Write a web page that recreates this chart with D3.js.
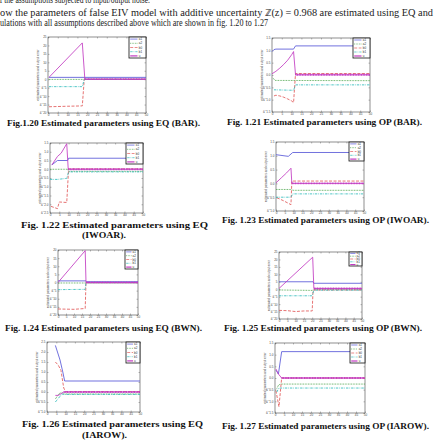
<!DOCTYPE html>
<html>
<head>
<title>Estimated parameters</title>
<style>
  body { margin: 0; background: #ffffff; }
  svg { display: block; }
  .para { font-family: "Liberation Serif", serif; font-size: 9.5px; fill: #222; }
  .cap { font-family: "Liberation Serif", serif; font-size: 8.6px; font-weight: bold; fill: #111; }
  .tick text { font-family: "Liberation Sans", sans-serif; font-size: 3px; fill: #444; }
  .tick line { stroke: #555; stroke-width: 0.4; }
  .ytitle { font-family: "Liberation Sans", sans-serif; font-size: 3px; fill: #555; }
  .leg { font-family: "Liberation Sans", sans-serif; font-size: 3px; fill: #333; }
</style>
<script src="https://cdnjs.cloudflare.com/ajax/libs/d3/7.8.5/d3.min.js"></script>
</head>
<body>
<div id="chart"></div>
<script>
// series names shown in every legend
var legendLabels = ["a1", "a2", "b0", "b1", "u"];
var xTicks = [0, 5, 10, 15, 20, 25, 30, 35, 40, 45, 50];

// Fig 1.20 EQ (BAR)
var f20_a1 = [[0.5, 1.1], [50, 1.1]];
var f20_a2 = [[0.5, -0.1], [50, -0.1]];
var f20_b0 = [[0.5, -16.3], [10, -16], [17.5, -15.8], [18.5, 0], [50, 0]];
var f20_b1 = [[0.5, -4.4], [17.5, -4.4], [18.5, 0], [50, 0]];
var f20_u = [[0.5, 1.1], [17.5, 21.5], [18.8, 0], [50, 0]];

// Fig 1.21 OP (BAR)
var f21_a1 = [[0, 0.95], [1, 1.03], [2, 1.05], [11, 1.05], [12, 1.18], [50, 1.18]];
var f21_a2 = [[0.5, -0.12], [1.5, -0.22], [50, -0.23]];
var f21_b0 = [[1, -0.85], [2, -0.82], [4, -0.85], [6, -0.9], [8, -0.97], [10, -1.05], [11, -1.12], [12, 0.06], [50, 0.06]];
var f21_b1 = [[1, -0.6], [11, -0.62], [12, -0.4], [50, -0.4]];
var f21_u = [[0, 0.05], [2, 0.15], [4, 0.28], [6, 0.43], [8, 0.6], [10, 0.82], [11, 0.95], [12, 0.01], [50, 0.01]];

// Fig 1.22 EQ (IWOAR)
var f22_a1 = [[1, 0.25], [4, 0.5], [9.5, 0.5], [10, 0.63], [50, 0.63]];
var f22_a2 = [[0, 0], [9.5, 0], [10, -0.12], [50, -0.12]];
var f22_b0 = [[0.5, -2.12], [4, -2.25], [5, -1.87], [9, -1.9], [10, 0.02], [50, 0.02]];
var f22_b1 = [[0, -0.58], [4, -0.58], [9, -0.52], [10, -0.15], [50, -0.15]];
var f22_u = [[1, 0.25], [4, 0.73], [6, 0.92], [9, 1.46], [9.8, 0], [50, 0]];

// Fig 1.23 OP (IWOAR)
var f23_a1 = [[0, 1.04], [7, 0.98], [9.5, 1.12], [50, 1.12]];
var f23_a2 = [[0, -0.22], [9, -0.22], [9.5, -0.25], [50, -0.25]];
var f23_b0 = [[0.5, -0.52], [4, -0.62], [8.5, -0.77], [9, 0.085], [50, 0.085]];
var f23_b1 = [[0, -0.5], [8.5, -0.5], [9.5, -0.38], [50, -0.38]];
var f23_u = [[0, 0.02], [3, 0.2], [6, 0.38], [8.5, 0.55], [9, 0], [50, 0]];

// Fig 1.24 EQ (BWN)
var f24_a1 = [[0, 1], [17.5, 1], [18, 0.5], [50, 0.5]];
var f24_a2 = [[0, -0.3], [50, -0.3]];
var f24_b0 = [[0, -16.3], [10, -16.5], [17, -16], [17.5, 0], [50, 0]];
var f24_b1 = [[0, -4.4], [17, -4.2], [17.5, 0], [50, 0]];
var f24_u = [[0, 0], [17, 19.6], [17.5, 0], [50, 0]];

// Fig 1.25 OP (BWN)
var f25_a1 = [[0, 5], [20.5, 5], [21, 4], [50, 4]];
var f25_a2 = [[0, -0.5], [20, -0.8], [21, -0.3], [50, -0.3]];
var f25_b0 = [[0, -14.2], [5, -14.4], [10, -15], [15, -14.6], [20, -14.6], [20.5, -1], [21, -0.5], [50, -0.5]];
var f25_b1 = [[0, -4.4], [20, -4.4], [21, -0.6], [50, -0.6]];
var f25_u = [[0, 0.5], [20.3, 21.5], [21, 0.5], [50, 0.5]];

// Fig 1.26 EQ (IAROW)
var f26_a1 = [[4.5, 2.33], [7, 1.6], [8.5, 1.0], [9.5, 0.55], [50, 0.55]];
var f26_a2 = [[4.5, -0.35], [6.5, -0.08], [8, -0.02], [9, -0.1], [50, -0.1]];
var f26_b0 = [[4.5, 1.5], [6, 1.35], [7.5, 1.08], [9, 0.2], [10, 0.02], [50, 0.02]];
var f26_b1 = [[4.5, -0.5], [6, -0.33], [8, -0.1], [9, -0.12], [50, -0.12]];
var f26_u = [[4.5, -0.17], [6, -0.17], [7, -0.12], [9, 0], [50, 0]];

// Fig 1.27 OP (IAROW)
var f27_a1 = [[0.5, 0.34], [1.9, 0.17], [3.7, 1.13], [50, 1.13]];
var f27_a2 = [[1, -0.45], [2, -0.3], [3, -0.26], [50, -0.26]];
var f27_b0 = [[0.5, -0.54], [2.2, -1.23], [3.7, 0], [50, 0]];
var f27_b1 = [[1, -0.6], [2, -0.45], [3, -0.43], [50, -0.43]];
var f27_u = [[0.5, 0.39], [1.9, 0.17], [3.7, 0], [50, 0]];

// y tick values per figure
var y20 = [-20, -15, -10, -5, 0, 5, 10, 15, 20, 25];
var y21 = [-1.5, -1, -0.5, 0, 0.5, 1, 1.5];
var y22 = [-2.5, -2, -1.5, -1, -0.5, 0, 0.5, 1, 1.5];
var y23 = [-1, -0.5, 0, 0.5, 1, 1.5];
var y24 = [-20, -15, -10, -5, 0, 5, 10, 15, 20];
var y25 = [-20, -15, -10, -5, 0, 5, 10, 15, 20, 25];
var y26 = [-1, -0.5, 0, 0.5, 1, 1.5, 2, 2.5];
var y27 = [-1.5, -1, -0.5, 0, 0.5, 1, 1.5];

var styles = [
    { c: "#5858d8", dash: null },
    { c: "#3a9c3a", dash: "0.8,0.8" },
    { c: "#e25a5a", dash: "3,1.5" },
    { c: "#30bcbc", dash: "2.4,1,0.7,1" },
    { c: "#c23ac2", dash: null }
];

var panels = [
    { box: [48, 37, 146, 113], leg: [129, 37, 146, 58], yt: y20, s: [f20_a1, f20_a2, f20_b0, f20_b1, f20_u] },
    { box: [272, 38, 370, 112], leg: [353, 38, 370, 58], yt: y21, s: [f21_a1, f21_a2, f21_b0, f21_b1, f21_u] },
    { box: [50, 143, 143, 213], leg: [126, 143, 143, 164], yt: y22, s: [f22_a1, f22_a2, f22_b0, f22_b1, f22_u] },
    { box: [276, 142, 364, 211], leg: [349, 142, 364, 161], yt: y23, s: [f23_a1, f23_a2, f23_b0, f23_b1, f23_u] },
    { box: [58, 250, 138, 315], leg: [125, 250, 138, 269], yt: y24, s: [f24_a1, f24_a2, f24_b0, f24_b1, f24_u] },
    { box: [279, 252, 362, 319], leg: [349, 252, 362, 266], yt: y25, s: [f25_a1, f25_a2, f25_b0, f25_b1, f25_u] },
    { box: [47, 342, 140, 412], leg: [126, 342, 140, 363], yt: y26, s: [f26_a1, f26_a2, f26_b0, f26_b1, f26_u] },
    { box: [275, 343, 365, 413], leg: [350, 343, 365, 363], yt: y27, s: [f27_a1, f27_a2, f27_b0, f27_b1, f27_u] }
];

var captions = [
    { t: "Fig.1.20 Estimated parameters using EQ (BAR).", x: 7, y: 126, w: 193 },
    { t: "Fig. 1.21 Estimated parameters using OP (BAR).", x: 227, y: 125, w: 195 },
    { t: "Fig. 1.22 Estimated parameters using EQ", x: 21, y: 228, w: 187 },
    { t: "(IWOAR).", x: 82, y: 238, w: 44 },
    { t: "Fig. 1.23 Estimated parameters using OP (IWOAR).", x: 222, y: 223, w: 207 },
    { t: "Fig. 1.24 Estimated parameters using EQ (BWN).", x: 5, y: 331, w: 197 },
    { t: "Fig. 1.25 Estimated parameters using OP (BWN).", x: 224, y: 331, w: 198 },
    { t: "Fig. 1.26 Estimated parameters using EQ", x: 22, y: 427, w: 181 },
    { t: "(IAROW).", x: 82, y: 438, w: 45 },
    { t: "Fig. 1.27 Estimated parameters using OP (IAROW).", x: 222, y: 429, w: 207 }
];

var svg = d3.select("#chart").append("svg")
    .attr("width", 434).attr("height", 445);
svg.append("rect").attr("width", 434).attr("height", 445).style("fill", "#fff");

// running text above the figures (first line is cut by the page edge)
var para = [
    { t: "of the assumptions subjected to input/output noise.", x: -4, y: 3, w: 154 },
    { t: "ow the parameters of false EIV model with additive uncertainty \u2124(z) = 0.968  are estimated using EQ and", x: 0, y: 16, w: 433 },
    { t: "ulations with all assumptions described above which are shown in fig. 1.20 to 1.27", x: 0, y: 26, w: 268 }
];
svg.selectAll(".para").data(para).enter().append("text")
    .attr("class", "para")
    .attr("x", function(d) { return d.x; })
    .attr("y", function(d) { return d.y; })
    .attr("textLength", function(d) { return d.w; })
    .attr("lengthAdjust", "spacingAndGlyphs")
    .text(function(d) { return d.t; });

svg.selectAll(".cap").data(captions).enter().append("text")
    .attr("class", "cap")
    .attr("x", function(d) { return d.x; })
    .attr("y", function(d) { return d.y; })
    .attr("textLength", function(d) { return d.w; })
    .attr("lengthAdjust", "spacingAndGlyphs")
    .text(function(d) { return d.t; });

panels.forEach(function(p) {
    var b = p.box;
    var x = d3.scaleLinear().domain([0, 50]).range([b[0], b[2]]);
    var y = d3.scaleLinear().domain([p.yt[0], p.yt[p.yt.length - 1]]).range([b[3], b[1]]);
    var g = svg.append("g");

    g.append("rect")
        .attr("x", b[0]).attr("y", b[1])
        .attr("width", b[2] - b[0]).attr("height", b[3] - b[1])
        .style("fill", "#fff").style("stroke", "#444").style("stroke-width", 0.6);

    var ax = [
        g.append("g").attr("transform", "translate(0," + b[3] + ")")
            .call(d3.axisBottom(x).tickValues(xTicks).tickSizeInner(-1.5).tickSizeOuter(0).tickPadding(1.2)),
        g.append("g").attr("transform", "translate(0," + b[1] + ")")
            .call(d3.axisTop(x).tickValues(xTicks).tickSizeInner(-1.5).tickSizeOuter(0).tickFormat("")),
        g.append("g").attr("transform", "translate(" + b[0] + ",0)")
            .call(d3.axisLeft(y).tickValues(p.yt).tickSizeInner(-1.5).tickSizeOuter(0).tickPadding(1.5)),
        g.append("g").attr("transform", "translate(" + b[2] + ",0)")
            .call(d3.axisRight(y).tickValues(p.yt).tickSizeInner(-1.5).tickSizeOuter(0).tickFormat(""))
    ];
    ax.forEach(function(a) { a.select(".domain").remove(); a.attr("font-size", null).attr("font-family", null); });

    g.append("text")
        .attr("class", "ytitle")
        .attr("transform", "translate(" + (b[0] - 9) + "," + ((b[1] + b[3]) / 2) + ") rotate(-90)")
        .style("text-anchor", "middle")
        .text("estimated parameters and output error");

    var line = d3.line().x(function(d) { return x(d[0]); }).y(function(d) { return y(d[1]); });

    p.s.forEach(function(ser, i) {
        g.append("path")
            .attr("d", line(ser))
            .style("fill", "none")
            .style("stroke", styles[i].c)
            .style("stroke-width", 0.85)
            .style("stroke-dasharray", styles[i].dash);
    });
    // marker band on the final segment of u
    var u = p.s[4];
    g.append("path")
        .attr("d", line(u.slice(u.length - 2)))
        .style("fill", "none")
        .style("stroke", styles[4].c)
        .style("stroke-width", 1.8)
        .style("stroke-dasharray", "0.9,0.7");

    // legend
    var L = p.leg;
    g.append("rect")
        .attr("x", L[0]).attr("y", L[1])
        .attr("width", L[2] - L[0]).attr("height", L[3] - L[1])
        .style("fill", "#fff").style("stroke", "#111").style("stroke-width", 0.8);
    var rowH = (L[3] - L[1]) / legendLabels.length;
    legendLabels.forEach(function(lab, i) {
        var yy = L[1] + rowH * (i + 0.5);
        g.append("line")
            .attr("x1", L[0] + 1.2).attr("x2", L[0] + (L[2] - L[0]) * 0.5)
            .attr("y1", yy).attr("y2", yy)
            .style("stroke", styles[i].c)
            .style("stroke-width", i == 4 ? 1.2 : 0.7)
            .style("stroke-dasharray", styles[i].dash);
        g.append("text")
            .attr("class", "leg")
            .attr("x", L[0] + (L[2] - L[0]) * 0.58).attr("y", yy + 1)
            .text(lab);
    });
});
</script>
</body>
</html>
